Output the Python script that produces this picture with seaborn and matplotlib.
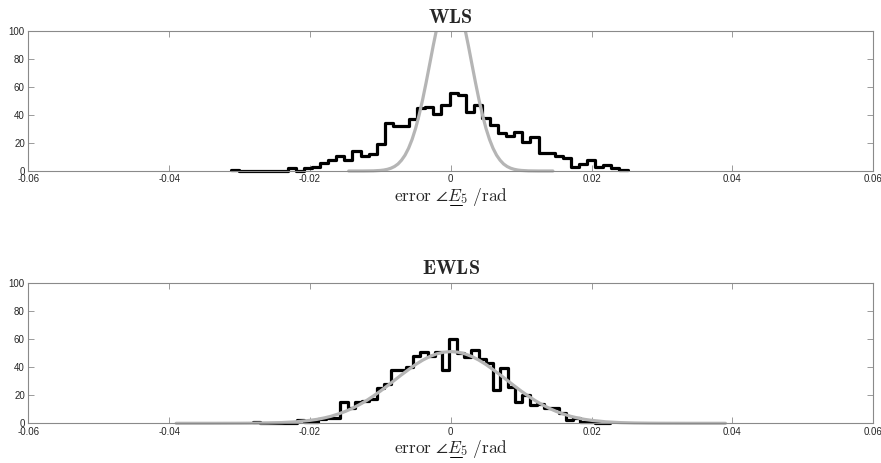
import numpy as np
import pandas as pd
import matplotlib
matplotlib.use("Agg")
import matplotlib.pyplot as plt
import seaborn as sns
from matplotlib.patches import Rectangle
from matplotlib.lines import Line2D
from matplotlib.transforms import IdentityTransform

# ---------------- data ----------------
titles = ["WLS", "EWLS"]

# WLS histogram: 49 bins between these limits
wls_range = (-0.0312, 0.0251)
wls_counts = [1, 0, 0, 0, 0, 0, 0, 2, 0, 2, 3, 6, 8, 11, 8, 14, 11, 12, 19, 34,
              32, 32, 37, 45, 46, 41, 47, 56, 54, 42, 47, 38, 33, 27, 25, 28, 21, 24,
              13, 13, 11, 9, 3, 5, 8, 3, 4, 2, 1]

# EWLS histogram: 49 bins between these limits
ewls_range = (-0.0281, 0.02255)
ewls_counts = [1, 0, 0, 0, 0, 0, 2, 1, 1, 3, 4, 4, 15, 11, 15, 16, 17, 25, 28, 38,
               38, 40, 48, 51, 48, 51, 38, 60, 50, 47, 52, 46, 43, 24, 39, 26, 15, 20,
               13, 14, 11, 11, 7, 2, 4, 1, 1, 0, 0]

# grey reference curves
wls_fit_x = [-0.0145, -0.0125, -0.011, -0.010, -0.0095, -0.009, -0.0085, -0.008,
             -0.0075, -0.007, -0.0065, -0.006, -0.0055, -0.005, -0.0045, -0.004,
             -0.0035, -0.003, -0.0025, -0.002, -0.0015, -0.001, -0.0005, 0.0,
             0.0005, 0.001, 0.0015, 0.002, 0.0025, 0.003, 0.0035, 0.004, 0.0045,
             0.005, 0.0055, 0.006, 0.0065, 0.007, 0.0075, 0.008, 0.0085, 0.009,
             0.0095, 0.010, 0.011, 0.0125, 0.0145]
wls_fit_y = [0.0, 0.0, 0.1, 0.4, 0.7, 1.2, 2.0, 3.2, 5.0, 7.7, 11.3, 16.2, 22.5,
             30.4, 40.0, 51.0, 63.3, 76.3, 89.4, 101.7, 112.5, 120.9, 126.2, 128.0,
             126.2, 120.9, 112.5, 101.7, 89.4, 76.3, 63.3, 51.0, 40.0, 30.4, 22.5,
             16.2, 11.3, 7.7, 5.0, 3.2, 2.0, 1.2, 0.7, 0.4, 0.1, 0.0, 0.0]

ewls_fit_x = [-0.039, -0.034, -0.030, -0.028, -0.026, -0.024, -0.022, -0.020,
              -0.019, -0.018, -0.017, -0.016, -0.015, -0.014, -0.013, -0.012,
              -0.011, -0.010, -0.009, -0.008, -0.007, -0.006, -0.005, -0.004,
              -0.003, -0.002, -0.001, 0.0, 0.001, 0.002, 0.003, 0.004, 0.005,
              0.006, 0.007, 0.008, 0.009, 0.010, 0.011, 0.012, 0.013, 0.014,
              0.015, 0.016, 0.017, 0.018, 0.019, 0.020, 0.022, 0.024, 0.026,
              0.028, 0.030, 0.034, 0.039]
ewls_fit_y = [0.0, 0.0, 0.04, 0.10, 0.23, 0.51, 1.06, 2.1, 2.8, 3.8, 5.0, 6.6,
              8.4, 10.6, 13.2, 16.1, 19.4, 22.9, 26.7, 30.6, 34.5, 38.2, 41.8,
              44.9, 47.5, 49.4, 50.6, 51.0, 50.6, 49.4, 47.5, 44.9, 41.8, 38.2,
              34.5, 30.6, 26.7, 22.9, 19.4, 16.1, 13.2, 10.6, 8.4, 6.6, 5.0, 3.8,
              2.8, 2.1, 1.06, 0.51, 0.23, 0.10, 0.04, 0.0, 0.0]

x_ticks = [-0.06, -0.04, -0.02, 0.0, 0.02, 0.04, 0.06]
x_tick_labels = ["-0.06", "-0.04", "-0.02", "0", "0.02", "0.04", "0.06"]
y_ticks = [0, 20, 40, 60, 80, 100]
y_tick_labels = ["0", "20", "40", "60", "80", "100"]

# x-axis label (E is underlined, drawn below)
xlabel = r"$\mathrm{error}\ \angle E_5\ /\mathrm{rad}$"
xlabel_before_E = r"$\mathrm{error}\ \angle$"
xlabel_to_E = r"$\mathrm{error}\ \angle E$"

# ---------------- style ----------------
sns.set_style("ticks")
plt.rcParams["font.family"] = ["Liberation Sans", "DejaVu Sans"]
plt.rcParams["mathtext.fontset"] = "cm"

W, H = 881, 463
fig = plt.figure(figsize=(W / 100, H / 100), dpi=100)
ax_top = fig.add_axes([28.3 / W, 1 - 171.0 / H, 845.0 / W, 140.0 / H])
ax_bot = fig.add_axes([28.3 / W, 1 - 423.3 / H, 845.0 / W, 140.6 / H])

spine_col = "#8a8a8a"
hist_col = "black"
fit_col = "#b5b5b5"
label_size = 12.5

panels = [
    (ax_top, wls_range, wls_counts, wls_fit_x, wls_fit_y, titles[0]),
    (ax_bot, ewls_range, ewls_counts, ewls_fit_x, ewls_fit_y, titles[1]),
]

for ax, rng, counts, fx, fy, title in panels:
    edges = np.linspace(rng[0], rng[1], len(counts) + 1)
    centers = (edges[:-1] + edges[1:]) / 2
    df = pd.DataFrame({"err": centers, "n": counts})
    n_before = len(ax.lines)
    sns.histplot(data=df, x="err", weights="n", bins=len(counts), binrange=rng,
                 element="step", fill=False, color=hist_col, linewidth=2.3, ax=ax)
    for ln in ax.lines[n_before:]:
        ln.set_clip_on(False)
    for p in ax.patches:
        p.set_clip_on(False)
    n_before = len(ax.lines)
    sns.lineplot(x=fx, y=fy, color=fit_col, linewidth=2.3, ax=ax,
                 estimator=None, sort=False)
    clip = Rectangle((0, -0.05), 1, 1.05, transform=ax.transAxes,
                     facecolor="none", edgecolor="none")
    for ln in ax.lines[n_before:]:
        ln.set_clip_path(clip)

    ax.set_xlim(-0.06, 0.06)
    ax.set_ylim(0, 100)
    ax.set_xticks(x_ticks)
    ax.set_xticklabels(x_tick_labels)
    ax.set_yticks(y_ticks)
    ax.set_yticklabels(y_tick_labels)
    ax.set_ylabel("")
    ax.set_xlabel(xlabel, fontsize=label_size, labelpad=1)
    ax.set_title(r"$\mathbf{" + title + "}$", fontsize=14.5, pad=6)
    ax.tick_params(direction="in", length=4.5, width=0.6, color=spine_col,
                   labelsize=7, labelcolor="#262626", pad=2.5,
                   top=True, right=True)
    for s in ax.spines.values():
        s.set_visible(True)
        s.set_color(spine_col)
        s.set_linewidth(0.8)
    ax.set_facecolor("white")

# underline beneath E in the x labels
fig.canvas.draw()
renderer = fig.canvas.get_renderer()
probe1 = fig.text(0, 0, xlabel_before_E, fontsize=label_size)
probe2 = fig.text(0, 0, xlabel_to_E, fontsize=label_size)
w1 = probe1.get_window_extent(renderer).width
w2 = probe2.get_window_extent(renderer).width
probe1.remove()
probe2.remove()
for ax in (ax_top, ax_bot):
    bb = ax.xaxis.label.get_window_extent(renderer)
    y = bb.y0 + 3.2
    fig.add_artist(Line2D([bb.x0 + w1 + 1.0, bb.x0 + w2 - 0.5], [y, y],
                          transform=IdentityTransform(), color="black",
                          linewidth=0.7))

fig.savefig("out.png", dpi=100, facecolor="white")
